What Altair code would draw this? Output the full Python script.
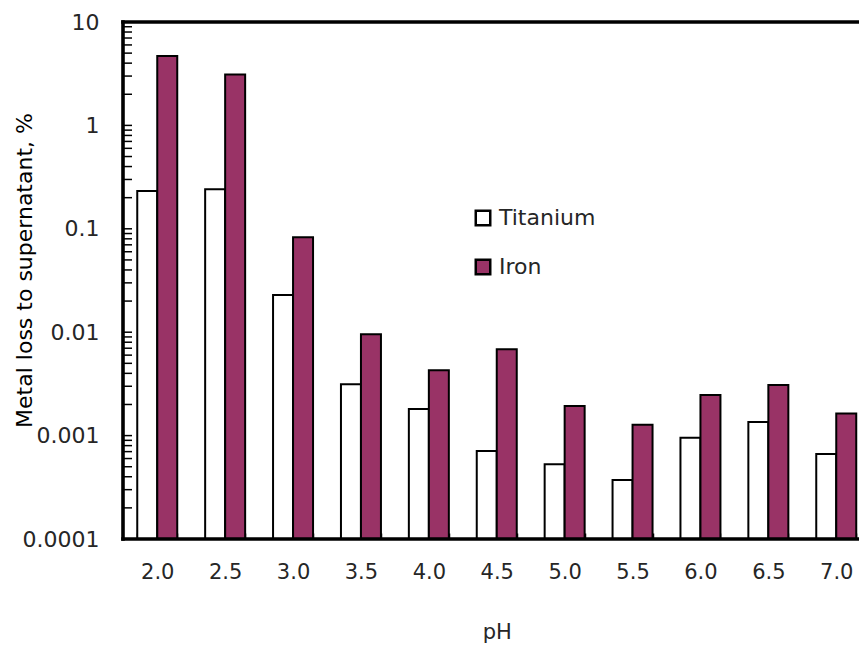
import altair as alt
import pandas as pd

# pH levels on the x axis
ph_levels = ["2.0", "2.5", "3.0", "3.5", "4.0", "4.5", "5.0", "5.5", "6.0", "6.5", "7.0"]

# Metal loss to supernatant, % (log scale)
titanium = [0.232, 0.241, 0.0229, 0.00313, 0.00181, 0.00071, 0.000528, 0.000372, 0.000955, 0.00135, 0.000664]
iron = [4.7, 3.1, 0.0827, 0.00955, 0.00428, 0.00684, 0.00193, 0.00127, 0.00247, 0.00308, 0.00164]

metals = ["Titanium", "Iron"]
metal_fills = ["#ffffff", "#993366"]

major_ticks = [0.0001, 0.001, 0.01, 0.1, 1, 10]
minor_ticks = [d * k for d in major_ticks[:-1] for k in range(2, 10)]

W, H = 736, 517
FONT = "DejaVu Sans"
TEXT = "#262626"

rows = []
for i, ph in enumerate(ph_levels):
    rows.append({"pH": ph, "metal": "Titanium", "loss": titanium[i]})
    rows.append({"pH": ph, "metal": "Iron", "loss": iron[i]})
df = pd.DataFrame(rows)

y_scale = alt.Scale(type="log", domain=[0.0001, 10])

y_axis = alt.Axis(
    values=major_ticks,
    format="~g",
    ticks=False,
    tickSize=0,
    domain=False,
    grid=False,
    labelFont=FONT,
    labelFontSize=22,
    labelColor=TEXT,
    labelPadding=24,
    title="Metal loss to supernatant, %",
    titleFont=FONT,
    titleFontSize=22,
    titleFontWeight="normal",
    titleColor="black",
    titleAngle=270,
    titleAlign="center",
    titleBaseline="middle",
    titleX=-99,
    titleY=248,
)

x_axis = alt.Axis(
    title="pH",
    tickBand="extent",
    offset=-6,
    tickSize=6,
    tickWidth=1.5,
    tickColor="black",
    domain=False,
    grid=False,
    labelAngle=0,
    labelFont=FONT,
    labelFontSize=21,
    labelColor=TEXT,
    labelPadding=22,
    titleFont=FONT,
    titleFontSize=21,
    titleFontWeight="normal",
    titleColor=TEXT,
    titlePadding=39,
)

bars = alt.Chart(df).mark_bar(stroke="black", strokeWidth=2).encode(
    x=alt.X(
        "pH:N",
        sort=ph_levels,
        scale=alt.Scale(range=[0.3, 747.2], paddingInner=0.411, paddingOuter=0.2055),
        axis=x_axis,
    ),
    xOffset=alt.XOffset("metal:N", sort=metals, scale=alt.Scale(domain=metals)),
    y=alt.Y("loss:Q", scale=y_scale, axis=y_axis),
    y2=alt.datum(0.0001),
    fill=alt.Fill(
        "metal:N",
        scale=alt.Scale(domain=metals, range=metal_fills),
        legend=alt.Legend(
            title=None,
            orient="none",
            legendX=349,
            legendY=185,
            symbolType="square",
            symbolSize=210,
            symbolStrokeColor="black",
            symbolStrokeWidth=2.5,
            symbolOpacity=1,
            labelFont=FONT,
            labelFontSize=22,
            labelColor=TEXT,
            labelOffset=5,
            rowPadding=23,
            padding=0,
        ),
    ),
)

# inward tick marks on the log axis
tick_df = pd.DataFrame({"v": major_ticks + minor_ticks})
y_ticks = alt.Chart(tick_df).mark_rule(color="black", strokeWidth=1.5).encode(
    y=alt.Y("v:Q", scale=y_scale, axis=y_axis),
    x=alt.value(0),
    x2=alt.value(9),
)

# plot frame: left, top and bottom
one = pd.DataFrame({"a": [0]})
frame_kw = dict(color="black", strokeWidth=3.6, strokeCap="square")
left_line = alt.Chart(one).mark_rule(**frame_kw).encode(
    x=alt.value(0), y=alt.value(0), y2=alt.value(H)
)
top_line = alt.Chart(one).mark_rule(**frame_kw).encode(
    y=alt.value(0), x=alt.value(0), x2=alt.value(W + 5)
)
bottom_line = alt.Chart(one).mark_rule(**frame_kw).encode(
    y=alt.value(H), x=alt.value(0), x2=alt.value(W + 5)
)

chart = (
    alt.layer(bars, y_ticks, left_line, top_line, bottom_line)
    .resolve_scale(y="shared")
    .properties(
        width=W,
        height=H,
        autosize=alt.AutoSizeParams(type="none"),
        padding={"left": 123, "top": 22, "right": 0, "bottom": 108},
        background="white",
    )
    .configure_view(stroke=None)
)

chart.save("out.html", embed_options={"renderer": "svg", "actions": False})
